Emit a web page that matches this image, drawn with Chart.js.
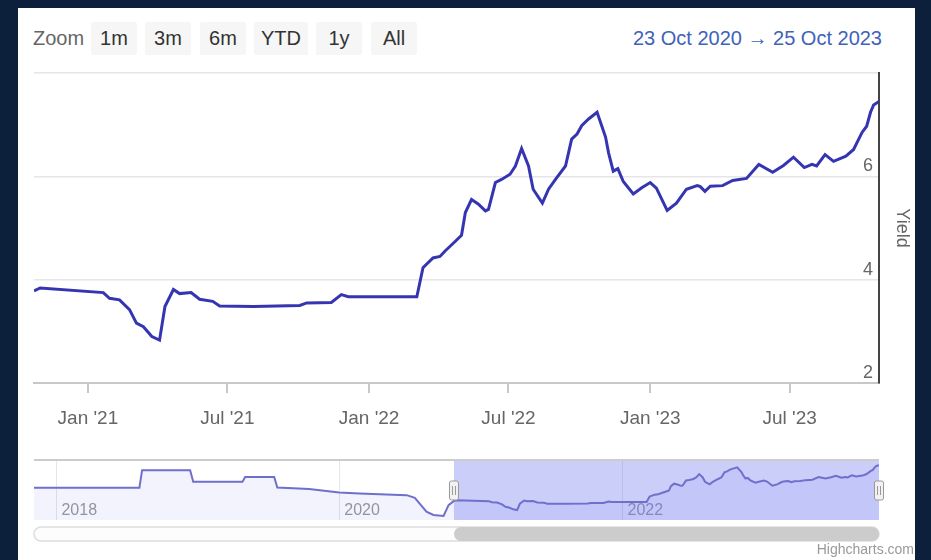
<!DOCTYPE html>
<html>
<head>
<meta charset="utf-8">
<script src="https://cdn.jsdelivr.net/npm/chart.js@4.4.0/dist/chart.umd.min.js"></script>
<style>
  body { margin: 0; width: 931px; height: 560px; overflow: hidden; background: #0c1f3b; font-family: "Liberation Sans", Arial, sans-serif; }
  .panel { position: absolute; left: 18px; top: 8px; width: 897px; height: 552px; background: #fff; }
  .zoom-label { position: absolute; left: 33px; top: 27px; font-size: 20px; color: #666; }
  .btn { position: absolute; top: 22px; height: 33px; line-height: 33px; background: #f6f6f6; color: #333; font-size: 20px; text-align: center; border-radius: 2px; }
  .range { position: absolute; right: 49px; top: 27px; font-size: 20px; color: #4062b8; }
  .credits { position: absolute; right: 17px; top: 541px; font-size: 14px; color: #999; }
  canvas { position: absolute; }
</style>
</head>
<body>
<div class="panel"></div>
<div class="zoom-label">Zoom</div>
<div class="btn" style="left:91px;width:46px">1m</div>
<div class="btn" style="left:145px;width:46px">3m</div>
<div class="btn" style="left:200px;width:46px">6m</div>
<div class="btn" style="left:254px;width:54px">YTD</div>
<div class="btn" style="left:316px;width:46px">1y</div>
<div class="btn" style="left:371px;width:46px">All</div>
<div class="range">23 Oct 2020 → 25 Oct 2023</div>
<canvas id="main" width="897" height="380" style="left:18px;top:60px"></canvas>
<canvas id="nav" width="897" height="100" style="left:18px;top:455px"></canvas>
<div class="credits">Highcharts.com</div>
<script>
const rangeStart = '2020-10-23'
const rangeEnd = '2023-10-25'
const navStart = '2017-11-04'

const dates = [
  '2020-10-23', '2020-10-31', '2021-01-21', '2021-01-29', '2021-02-11', '2021-02-24', '2021-03-05', '2021-03-14',
  '2021-03-25', '2021-04-04', '2021-04-11', '2021-04-22', '2021-04-30', '2021-05-15', '2021-05-26', '2021-06-12',
  '2021-06-21', '2021-08-04', '2021-10-03', '2021-10-12', '2021-11-13', '2021-11-26', '2021-12-05', '2022-03-04',
  '2022-03-12', '2022-03-25', '2022-04-03', '2022-04-10', '2022-04-20', '2022-05-01', '2022-05-06', '2022-05-14',
  '2022-05-23', '2022-06-01', '2022-06-05', '2022-06-14', '2022-06-22', '2022-07-03', '2022-07-10', '2022-07-18',
  '2022-07-27', '2022-08-02', '2022-08-14', '2022-08-22', '2022-08-31', '2022-09-13', '2022-09-21', '2022-09-28',
  '2022-10-04', '2022-10-13', '2022-10-24', '2022-11-04', '2022-11-08', '2022-11-14', '2022-11-20', '2022-11-27',
  '2022-12-10', '2022-12-21', '2023-01-01', '2023-01-09', '2023-01-23', '2023-02-04', '2023-02-17', '2023-03-03',
  '2023-03-07', '2023-03-13', '2023-03-20', '2023-04-05', '2023-04-18', '2023-05-06', '2023-05-22', '2023-06-09',
  '2023-06-23', '2023-07-06', '2023-07-20', '2023-07-30', '2023-08-05', '2023-08-16', '2023-08-27', '2023-09-12',
  '2023-09-22', '2023-10-03', '2023-10-09', '2023-10-14', '2023-10-18', '2023-10-25'
]
const yields = [
  3.78, 3.84, 3.75, 3.64, 3.61, 3.42, 3.16, 3.09,
  2.90, 2.83, 3.48, 3.81, 3.73, 3.75, 3.62, 3.58,
  3.49, 3.48, 3.50, 3.55, 3.56, 3.71, 3.67, 3.67,
  4.23, 4.42, 4.45, 4.56, 4.70, 4.86, 5.30, 5.55,
  5.46, 5.33, 5.36, 5.88, 5.94, 6.04, 6.20, 6.54,
  6.20, 5.75, 5.48, 5.75, 5.94, 6.20, 6.72, 6.82,
  6.98, 7.11, 7.24, 6.76, 6.45, 6.10, 6.15, 5.90,
  5.66, 5.78, 5.88, 5.77, 5.34, 5.48, 5.75, 5.82,
  5.80, 5.71, 5.81, 5.82, 5.92, 5.96, 6.23, 6.08,
  6.21, 6.37, 6.17, 6.23, 6.20, 6.42, 6.29, 6.39,
  6.52, 6.85, 6.97, 7.24, 7.38, 7.45
]

// older values only shown in the navigator
const historyDates = [
  '2017-11-04', '2018-08-03', '2018-08-10', '2018-12-12', '2018-12-20', '2019-04-26', '2019-05-03', '2019-07-17',
  '2019-07-25', '2019-10-15', '2020-01-01', '2020-02-22', '2020-06-23', '2020-07-14', '2020-08-13', '2020-08-31',
  '2020-09-26', '2020-10-09'
]
const historyYields = [
  5.12, 5.12, 6.94, 6.94, 5.74, 5.74, 6.25, 6.25,
  5.16, 5.00, 4.64, 4.53, 4.37, 4.09, 2.66, 2.32,
  2.21, 3.34
]

const xTickDates = ['2021-01-01', '2021-07-01', '2022-01-01', '2022-07-01', '2023-01-01', '2023-07-01']
const navTickDates = ['2018-01-01', '2020-01-01', '2022-01-01']
const yTicks = [2, 4, 6, 8]
const months = ['Jan', 'Feb', 'Mar', 'Apr', 'May', 'Jun', 'Jul', 'Aug', 'Sep', 'Oct', 'Nov', 'Dec']

function day(s) {
  return Date.parse(s + 'T00:00:00Z') / 86400000
}
function monthLabel(v) {
  var d = new Date(v * 86400000)
  return months[d.getUTCMonth()] + " '" + String(d.getUTCFullYear()).slice(2)
}

var mainPoints = dates.map((d, i) => ({ x: day(d), y: yields[i] }))
var navPoints = historyDates.map((d, i) => ({ x: day(d), y: historyYields[i] })).concat(mainPoints)

Chart.defaults.font.family = '"Liberation Sans", Arial, sans-serif'

new Chart(document.getElementById('main'), {
  type: 'line',
  data: {
    datasets: [{
      data: mainPoints,
      borderColor: '#3535b2',
      borderWidth: 3,
      pointRadius: 0,
      tension: 0
    }]
  },
  options: {
    responsive: false,
    animation: false,
    layout: { padding: { left: 16, top: 13, right: 0, bottom: 0 } },
    plugins: { legend: { display: false }, tooltip: { enabled: false } },
    scales: {
      x: {
        type: 'linear',
        min: day(rangeStart),
        max: day(rangeEnd),
        afterBuildTicks: s => { s.ticks = xTickDates.map(d => ({ value: day(d) })) },
        afterFit: s => { s.height = 57 },
        grid: { drawOnChartArea: false, drawTicks: true, tickLength: 10, color: '#c8c8c8', lineWidth: 2 },
        border: { display: true, color: '#c8c8c8', width: 2 },
        ticks: { padding: 14, color: '#666', font: { size: 19 }, maxRotation: 0, autoSkip: false, callback: v => monthLabel(v) }
      },
      y: {
        position: 'right',
        min: 2,
        max: 8,
        afterBuildTicks: s => { s.ticks = yTicks.map(v => ({ value: v })) },
        afterFit: s => { s.width = 36 },
        grid: { color: '#e6e6e6', lineWidth: 1.5, drawTicks: false },
        border: { display: true, color: '#444', width: 2 },
        ticks: { mirror: true, padding: -6, labelOffset: -10, color: '#666', font: { size: 18 }, callback: v => v == 8 ? '' : v },
        title: { display: true, text: 'Yield', color: '#666', font: { size: 18 }, padding: { top: 2, bottom: 0 } }
      }
    }
  }
})

const navigatorDecor = {
  id: 'navigatorDecor',
  beforeDatasetsDraw(chart) {
    const ctx = chart.ctx, a = chart.chartArea, x = chart.scales.x
    const xs = x.getPixelForValue(day(rangeStart)), xe = x.getPixelForValue(day(rangeEnd))
    ctx.save()
    ctx.fillStyle = 'rgba(110,115,240,0.35)'
    ctx.fillRect(xs, a.top, xe - xs, a.bottom - a.top)
    ctx.restore()
  },
  afterDraw(chart) {
    const ctx = chart.ctx, a = chart.chartArea, x = chart.scales.x
    const xs = x.getPixelForValue(day(rangeStart)), xe = x.getPixelForValue(day(rangeEnd))
    ctx.save()
    ctx.strokeStyle = '#cccccc'
    ctx.lineWidth = 2
    ctx.beginPath()
    ctx.moveTo(a.left, a.top)
    ctx.lineTo(a.right, a.top)
    ctx.stroke()

    // handles
    const hy = a.top + 21, hh = 19
    ;[xs, xe].forEach(hx => {
      ctx.fillStyle = '#f2f2f2'
      ctx.strokeStyle = '#999'
      ctx.lineWidth = 1
      ctx.beginPath()
      ctx.roundRect(hx - 4.5, hy, 9, hh, 2)
      ctx.fill()
      ctx.stroke()
      ctx.beginPath()
      ctx.moveTo(hx - 1.5, hy + 5); ctx.lineTo(hx - 1.5, hy + hh - 5)
      ctx.moveTo(hx + 1.5, hy + 5); ctx.lineTo(hx + 1.5, hy + hh - 5)
      ctx.stroke()
    })

    // scrollbar
    const sy = a.bottom + 7, sh = 14
    ctx.fillStyle = '#fdfdfd'
    ctx.strokeStyle = '#dddddd'
    ctx.lineWidth = 1.5
    ctx.beginPath()
    ctx.roundRect(a.left, sy, a.right - a.left, sh, 7)
    ctx.fill()
    ctx.stroke()
    ctx.fillStyle = '#cccccc'
    ctx.beginPath()
    ctx.roundRect(xs, sy, xe - xs, sh, 7)
    ctx.fill()
    ctx.restore()
  }
}

new Chart(document.getElementById('nav'), {
  type: 'line',
  data: {
    datasets: [{
      data: navPoints,
      borderColor: '#6f6fcc',
      borderWidth: 2,
      pointRadius: 0,
      tension: 0,
      fill: 'start',
      backgroundColor: 'rgba(70,80,210,0.07)'
    }]
  },
  options: {
    responsive: false,
    animation: false,
    layout: { padding: { left: 16, top: 5, right: 36, bottom: 35 } },
    plugins: { legend: { display: false }, tooltip: { enabled: false } },
    scales: {
      x: {
        type: 'linear',
        min: day(navStart),
        max: day(rangeEnd),
        afterBuildTicks: s => { s.ticks = navTickDates.map(d => ({ value: day(d) })) },
        afterFit: s => { s.height = 0 },
        grid: { color: '#e6e6e6', lineWidth: 1, drawTicks: false },
        border: { display: false },
        ticks: { mirror: true, align: 'start', padding: 0, labelOffset: 5, color: '#999', font: { size: 16 }, maxRotation: 0, autoSkip: false, callback: v => new Date(v * 86400000).getUTCFullYear() }
      },
      y: { display: false, min: 1.8, max: 8 }
    }
  },
  plugins: [navigatorDecor]
})
</script>
</body>
</html>
